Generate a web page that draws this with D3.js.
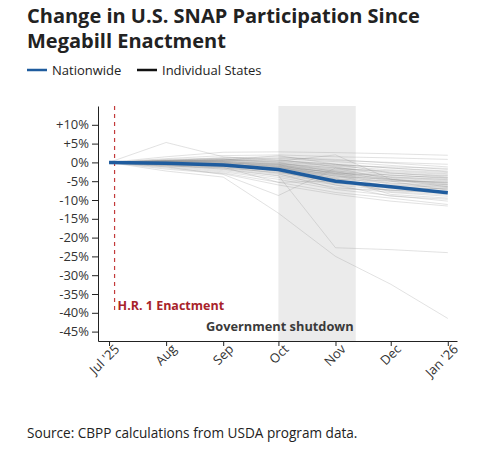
<!DOCTYPE html>
<html>
<head>
<meta charset="utf-8">
<script src="https://cdn.jsdelivr.net/npm/d3@7"></script>
<style>
  body { margin: 0; background: #fff; }
  svg { font-family: "Open Sans", sans-serif; }
  .axis path, .axis line { stroke: #222; }
</style>
</head>
<body>
<svg id="chart" width="489" height="461"></svg>
<script>
// months of the series (first of each month)
const months = ['2025-07-01','2025-08-01','2025-09-01','2025-10-01','2025-11-01','2025-12-01','2026-01-01'];
const monthLabels = ["Jul '25", 'Aug', 'Sep', 'Oct', 'Nov', 'Dec', "Jan '26"];

// nationwide % change since Jul '25
const nationwide = [0, -0.2, -0.7, -1.9, -5.0, -6.5, -8.1];

// individual states, % change since Jul '25
const stateSeries = [
  [0, 5.3, 1.5, 0.5, -0.5, -1.5, -2.5],
  [0, -2.3, -3.9, -13.5, -25, -32.4, -41.5],
  [0, -0.8, -1.8, -3.5, -22.7, -23.2, -24],
  [0, -1.2, -3.2, -8.8, -1.5, -4.5, -6.5],
  [0, 0.5, 0.8, 0.3, 2.0, -4.5, -6],
  [0, 1.5, 2.7, 2.8, 2.6, 2.3, 1.9],
  [0, 1.0, 1.8, 2.0, 1.5, 1.2, 0.8],
  [0, 0.8, 1.2, 1.0, 0.2, -0.8, -1.9],
  [0, 0.6, 1.0, 0.5, -0.5, -1.5, -2.3],
  [0, 0.4, 0.6, 0.0, -1.0, -2.0, -2.7],
  [0, 0.3, 0.5, -0.2, -1.5, -2.5, -3.2],
  [0, 0.2, 0.2, -0.5, -2.0, -3.0, -3.6],
  [0, 0.1, 0.0, -0.8, -2.3, -3.4, -4.1],
  [0, 0.0, -0.2, -1.0, -2.8, -3.8, -4.5],
  [0, -0.1, -0.4, -1.3, -3.2, -4.2, -5.0],
  [0, -0.2, -0.6, -1.6, -3.6, -4.6, -5.4],
  [0, -0.3, -0.8, -1.9, -4.0, -5.0, -5.9],
  [0, -0.4, -1.0, -2.2, -4.4, -5.5, -6.3],
  [0, -0.5, -1.2, -2.5, -4.8, -6.0, -6.7],
  [0, -0.6, -1.4, -2.8, -5.2, -6.5, -7.2],
  [0, -0.7, -1.6, -3.2, -5.6, -7.0, -7.6],
  [0, -0.8, -1.9, -3.6, -6.0, -7.4, -8.3],
  [0, -1.0, -2.2, -4.0, -6.6, -8.0, -9.0],
  [0, -1.2, -2.5, -4.5, -7.2, -8.8, -10.3],
  [0, -1.5, -2.8, -5.3, -8.0, -9.5, -11.2],
  [0, -1.8, -3.0, -6.0, -8.5, -10.3, -11.6],
  [0, 0.5, 1.2, 1.5, 0.5, 0.0, -0.5],
  [0, 0.2, 0.4, 0.8, -1.2, -3.5, -4.0],
  [0, -0.2, -0.3, -0.5, -3.0, -5.5, -6.0],
  [0, 0.3, 0.1, -1.2, -4.5, -5.0, -5.2],
  [0, -0.5, -1.0, -1.5, -2.5, -4.0, -4.8],
  [0, 0.0, 0.3, -0.3, -1.8, -2.2, -3.0],
  [0, -0.3, -0.5, -2.0, -3.5, -6.5, -7.0],
  [0, -0.6, -1.3, -5.3, -5.0, -7.5, -8.0],
  [0, 0.1, 0.6, 1.8, -0.5, -2.8, -3.5],
  [0, -0.4, -0.7, -1.0, -4.2, -8.5, -9.5],
  [0, 0.4, 0.9, 0.0, -2.5, -4.8, -5.5],
  [0, -0.1, -0.6, -2.4, -6.0, -9.0, -9.8],
  [0, 0.2, -0.2, -1.8, -3.0, -3.3, -4.3],
  [0, -0.2, -0.9, -2.2, -5.5, -6.2, -6.6],
  [0, 0.6, 0.3, -0.6, -3.8, -4.4, -5.7],
  [0, -0.9, -1.5, -2.7, -4.6, -7.8, -8.6],
  [0, 0.0, -0.1, -0.9, -2.9, -5.0, -7.4],
  [0, 0.3, 0.7, 1.2, 0.8, -0.2, -1.2],
  [0, -0.3, -1.1, -3.0, -7.0, -7.3, -7.9],
  [0, 0.1, 0.2, -0.4, -1.4, -2.8, -3.9],
  [0, -0.2, -0.4, -1.4, -3.3, -5.8, -6.4],
  [0, 0.5, 0.6, 0.2, -0.8, -1.2, -1.6],
  [0, -0.1, -0.5, -1.1, -2.6, -4.5, -5.3],
  [0, -0.4, -0.8, -2.0, -4.9, -6.8, -7.0],
  [0, 0.2, 0.0, -0.7, -2.2, -3.9, -4.6]
];

const yTicks = [10, 5, 0, -5, -10, -15, -20, -25, -30, -35, -40, -45];
const enactmentDate = '2025-07-04';
const shutdown = ['2025-10-01', '2025-11-12'];

const svg = d3.select('#chart');
const parse = d3.timeParse('%Y-%m-%d');
const dates = months.map(parse);

const margin = { top: 106, bottom: 120, right: 32, left: 98 };
const width = 489, height = 461;
const innerWidth = width - margin.left - margin.right;
const innerHeight = height - margin.top - margin.bottom;

const xScale = d3.scaleTime()
  .domain([d3.timeDay.offset(dates[0], -5.4), d3.timeDay.offset(dates[6], 5.1)])
  .range([0, innerWidth]);
const yScale = d3.scaleLinear()
  .domain([-47.5, 15])
  .range([innerHeight, 0]);

// title
svg.append('text').attr('x', 27).attr('y', 23)
  .attr('font-size', 20).attr('font-weight', 700).attr('fill', '#222')
  .text('Change in U.S. SNAP Participation Since');
svg.append('text').attr('x', 27).attr('y', 48)
  .attr('font-size', 20).attr('font-weight', 700).attr('fill', '#222')
  .text('Megabill Enactment');

// legend
const legend = svg.append('g').attr('transform', 'translate(27,70)');
legend.append('line').attr('x1', 0).attr('x2', 20).attr('stroke', '#1f5c9e').attr('stroke-width', 2.5);
legend.append('text').attr('x', 25).attr('y', 4.5).attr('font-size', 13).attr('fill', '#222').text('Nationwide');
legend.append('line').attr('x1', 110).attr('x2', 130).attr('stroke', '#111').attr('stroke-width', 2.5);
legend.append('text').attr('x', 135).attr('y', 4.5).attr('font-size', 13).attr('fill', '#222').text('Individual States');

const g = svg.append('g')
  .attr('transform', 'translate(' + margin.left + ',' + margin.top + ')');

// shutdown band
const s0 = xScale(parse(shutdown[0])), s1 = xScale(parse(shutdown[1]));
g.append('rect')
  .attr('x', s0).attr('y', 0)
  .attr('width', s1 - s0).attr('height', innerHeight)
  .attr('fill', '#ebebeb');

const line = d3.line()
  .x((d, i) => xScale(dates[i]))
  .y(d => yScale(d));

g.selectAll('.state')
  .data(stateSeries)
  .enter()
  .append('path')
  .attr('class', 'state')
  .attr('d', line)
  .attr('fill', 'none')
  .attr('stroke', '#8a8a8a')
  .attr('stroke-opacity', 0.28)
  .attr('stroke-width', 0.9);

// enactment marker
const ex = xScale(parse(enactmentDate));
g.append('line')
  .attr('x1', ex).attr('x2', ex)
  .attr('y1', 0).attr('y2', yScale(-39.5))
  .attr('stroke', '#c33a3a')
  .attr('stroke-width', 1.2)
  .attr('stroke-dasharray', '4,4');
g.append('text')
  .attr('x', ex + 3).attr('y', yScale(-39.2))
  .attr('font-size', 12.5).attr('font-weight', 700).attr('fill', '#a8232a')
  .text('H.R. 1 Enactment');

g.append('path')
  .datum(nationwide)
  .attr('d', line)
  .attr('fill', 'none')
  .attr('stroke', '#1f5c9e')
  .attr('stroke-width', 3.5)
  .attr('stroke-linejoin', 'round');

g.append('text')
  .attr('x', s1 - 2).attr('y', innerHeight - 10)
  .attr('text-anchor', 'end')
  .attr('font-size', 12.8).attr('font-weight', 700).attr('fill', '#3a3a3a')
  .text('Government shutdown');

// axes
const fmt = d => (d > 0 ? '+' : d < 0 ? '-' : '') + Math.abs(d) + '%';
const yAxis = d3.axisLeft(yScale).tickValues(yTicks).tickFormat(fmt).tickSize(6).tickSizeOuter(0).tickPadding(3);
g.append('g').attr('class', 'axis')
  .call(yAxis)
  .attr('font-family', '"Open Sans", sans-serif')
  .attr('font-size', 13)
  .call(a => a.selectAll('text').attr('fill', '#333'));

const xAxis = d3.axisBottom(xScale).tickValues(dates)
  .tickFormat((d, i) => monthLabels[i]).tickSize(5).tickSizeOuter(0);
g.append('g').attr('class', 'axis')
  .attr('transform', 'translate(0,' + innerHeight + ')')
  .call(xAxis)
  .attr('font-family', '"Open Sans", sans-serif')
  .attr('font-size', 13)
  .selectAll('text')
  .attr('fill', '#333')
  .attr('text-anchor', 'end')
  .attr('dx', '0.1em')
  .attr('dy', '0.45em')
  .attr('transform', 'rotate(-45)');

// source
svg.append('text').attr('x', 27).attr('y', 438)
  .attr('font-size', 13.6).attr('fill', '#222')
  .text('Source: CBPP calculations from USDA program data.');
</script>
</body>
</html>
